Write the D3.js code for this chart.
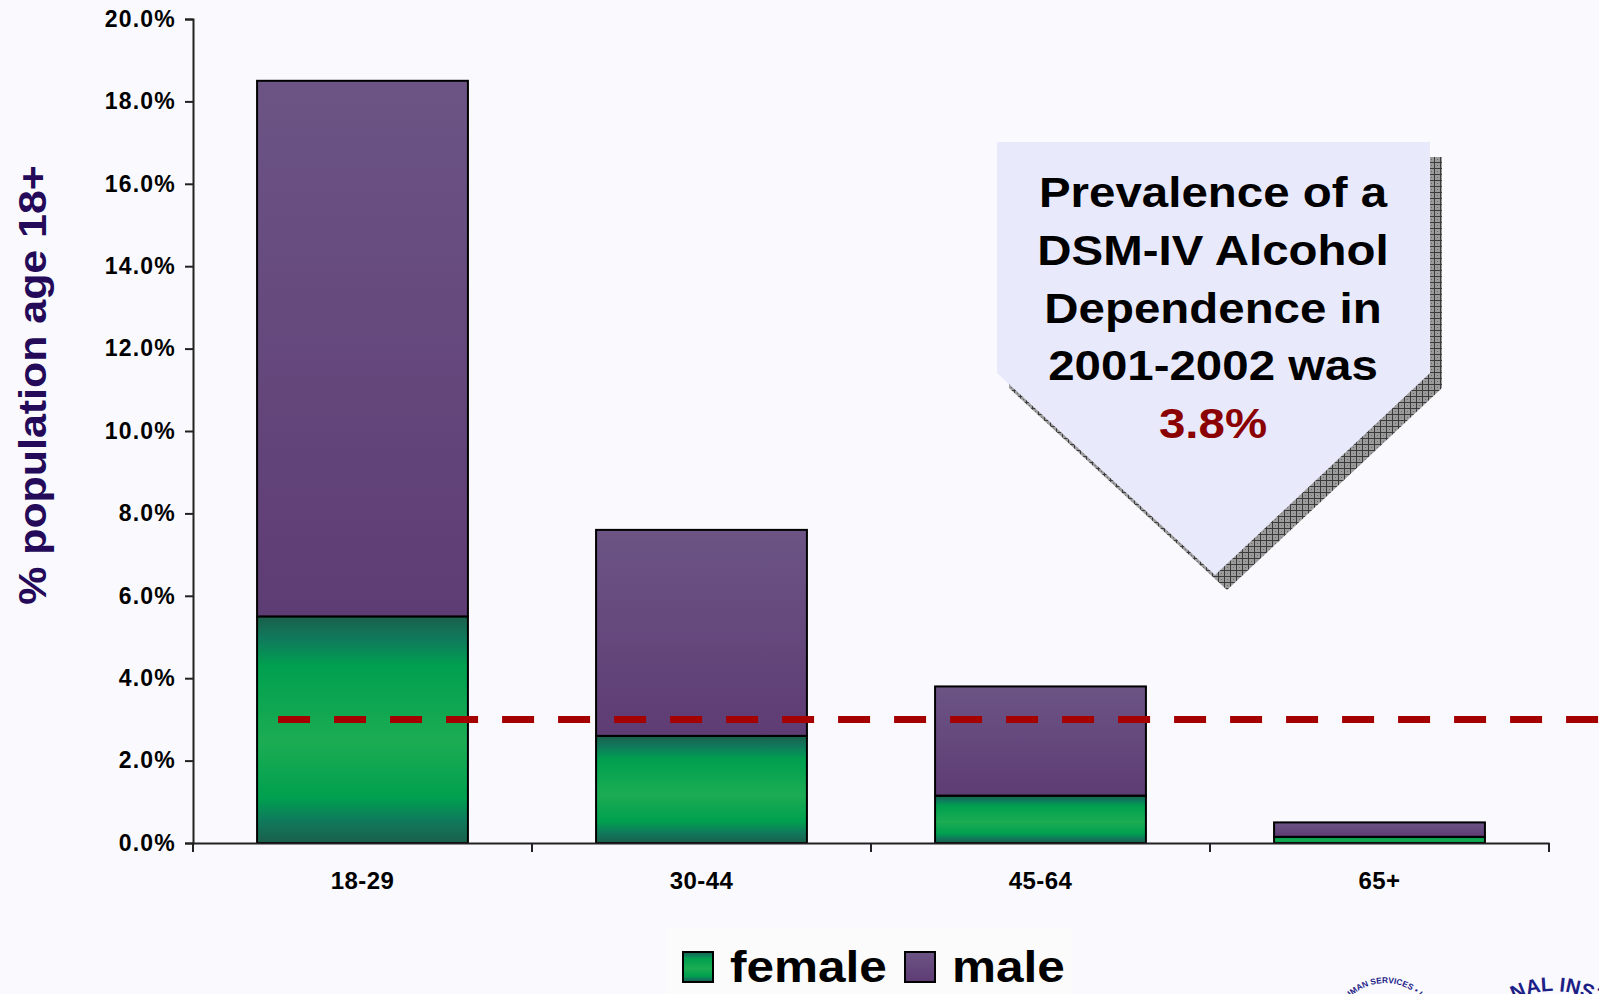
<!DOCTYPE html>
<html>
<head>
<meta charset="utf-8">
<script src="https://cdn.jsdelivr.net/npm/d3@7/dist/d3.min.js"></script>
<style>
  html, body { margin: 0; padding: 0; background: #f9f9fe; }
  svg { display: block; }
  text { font-family: "Liberation Sans", Arial, Helvetica, sans-serif; font-weight: bold; }
</style>
</head>
<body>
<svg id="chart" width="1599" height="994"></svg>
<script>
// ---- data ----
const categories = ["18-29", "30-44", "45-64", "65+"];
const femaleValues = [5.5, 2.6, 1.15, 0.15];
const maleValues = [13.0, 5.0, 2.65, 0.35];
const seriesNames = ["female", "male"];
const yTickValues = [0, 2, 4, 6, 8, 10, 12, 14, 16, 18, 20];
const overallRate = 3.0;
const calloutLines = ["Prevalence of a", "DSM-IV Alcohol", "Dependence in", "2001-2002 was"];
const calloutValue = "3.8%";
const yAxisTitle = "% population age 18+";

const svg = d3.select("#chart");
const W = 1599, H = 994;
const STRETCH = 1.13;

svg.append("rect").attr("width", W).attr("height", H).attr("fill", "#f9f9fe");

// ---- gradients / patterns ----
const defs = svg.append("defs");
const gF = defs.append("linearGradient").attr("id", "gradFemale")
  .attr("x1", 0).attr("y1", 0).attr("x2", 0).attr("y2", 1);
[[0, "#1b5f4b"], [0.1, "#0f7a5c"], [0.22, "#00a04f"], [0.55, "#1cac53"],
 [0.8, "#00a04f"], [0.9, "#0f7a5c"], [1, "#1b5f4b"]]
  .forEach(([o, c]) => gF.append("stop").attr("offset", o).attr("stop-color", c));
const gM = defs.append("linearGradient").attr("id", "gradMale")
  .attr("x1", 0).attr("y1", 0).attr("x2", 0).attr("y2", 1);
[[0, "#6c5485"], [1, "#5e3c74"]]
  .forEach(([o, c]) => gM.append("stop").attr("offset", o).attr("stop-color", c));

const hatch = defs.append("pattern").attr("id", "hatch")
  .attr("patternUnits", "userSpaceOnUse").attr("width", 6).attr("height", 6);
hatch.append("rect").attr("width", 6).attr("height", 6).attr("fill", "#9b9b9b");
hatch.append("path").attr("d", "M0,0.5H6M0.5,0V6").attr("stroke", "#3a3a3a").attr("stroke-width", 1);
hatch.append("rect").attr("x", 3).attr("y", 3).attr("width", 1).attr("height", 1).attr("fill", "#6a6a6a");

const fills = { female: "url(#gradFemale)", male: "url(#gradMale)" };

// ---- scales ----
const plot = { left: 193, right: 1549, top: 19, bottom: 843 };
const x = d3.scaleBand().domain(categories)
  .range([plot.left, plot.right]).paddingInner(0.378).paddingOuter(0.189);
const y = d3.scaleLinear().domain([0, 20]).range([plot.bottom, plot.top]);

// ---- stacked bars ----
const rows = categories.map((c, i) => ({ cat: c, female: femaleValues[i], male: maleValues[i] }));
const stacked = d3.stack().keys(seriesNames)(rows);

svg.append("g").selectAll("g").data(stacked).join("g")
  .attr("fill", d => fills[d.key])
  .selectAll("rect").data(d => d).join("rect")
  .attr("x", d => x(d.data.cat))
  .attr("width", x.bandwidth())
  .attr("y", d => y(d[1]))
  .attr("height", d => y(d[0]) - y(d[1]))
  .attr("stroke", "#000").attr("stroke-width", 2);

// ---- axes ----
const yAxis = svg.append("g").attr("transform", `translate(${plot.left},0)`)
  .call(d3.axisLeft(y).tickValues(yTickValues).tickSize(8).tickPadding(9)
    .tickFormat(d => d3.format(".1f")(d) + "%"));
yAxis.select(".domain").attr("stroke", "#222").attr("stroke-width", 2);
yAxis.selectAll(".tick line").attr("stroke", "#222").attr("stroke-width", 2);
yAxis.selectAll(".tick text")
  .attr("fill", "#000")
  .attr("font-size", 23)
  .attr("letter-spacing", 1.2);

const xAxis = svg.append("g").attr("transform", `translate(0,${plot.bottom})`)
  .call(d3.axisBottom(x).tickSize(0));
xAxis.select(".domain").attr("stroke", "#222").attr("stroke-width", 2);
xAxis.selectAll(".tick text")
  .attr("y", 46).attr("dy", 0).attr("fill", "#000")
  .attr("font-size", 24)
  .attr("letter-spacing", 0.4);

// category boundary ticks
const gap = x.step() - x.bandwidth();
const boundaries = categories.map(c => x(c) - gap / 2).concat([x.range()[1]]);
svg.append("g").selectAll("line").data(boundaries).join("line")
  .attr("x1", d => d).attr("x2", d => d)
  .attr("y1", plot.bottom).attr("y2", plot.bottom + 9)
  .attr("stroke", "#222").attr("stroke-width", 2);

// ---- y axis title ----
svg.append("text")
  .attr("transform", `translate(46,385) rotate(-90) scale(1.1,1)`)
  .attr("text-anchor", "middle")
  .attr("font-size", 39)
  .attr("fill", "#240a58")
  .text(yAxisTitle);

// ---- overall rate dashed line ----
svg.append("line")
  .attr("x1", x(categories[0]) + 21).attr("x2", W + 20)
  .attr("y1", y(overallRate)).attr("y2", y(overallRate))
  .attr("stroke", "#a50000").attr("stroke-width", 7)
  .attr("stroke-dasharray", "32 24");

// ---- callout ----
const callout = [[997, 142], [1430, 142], [1430, 373], [1215, 575], [997, 373]];
const shadowOff = [12, 15];
svg.append("polygon")
  .attr("points", callout.map(p => [p[0] + shadowOff[0], p[1] + shadowOff[1]].join(",")).join(" "))
  .attr("fill", "url(#hatch)");
svg.append("polygon")
  .attr("points", callout.map(p => p.join(",")).join(" "))
  .attr("fill", "#e9e9fc");

const calloutX = 1213;
const baselines = [207, 265, 323, 380, 438];
calloutLines.forEach((t, i) => {
  svg.append("text")
    .attr("transform", `translate(${calloutX},${baselines[i]}) scale(${STRETCH},1)`)
    .attr("text-anchor", "middle").attr("font-size", 42).attr("fill", "#000")
    .text(t);
});
svg.append("text")
  .attr("transform", `translate(${calloutX},${baselines[4]}) scale(${STRETCH},1)`)
  .attr("text-anchor", "middle").attr("font-size", 42).attr("fill", "#8b0000")
  .text(calloutValue);

// ---- legend ----
svg.append("rect").attr("x", 667).attr("y", 927).attr("width", 405).attr("height", 80)
  .attr("fill", "#fbfbfb");
const legendItems = [
  { key: "female", sx: 683, tx: 730 },
  { key: "male", sx: 905, tx: 952 }
];
const lg = svg.append("g").selectAll("g").data(legendItems).join("g");
lg.append("rect")
  .attr("x", d => d.sx).attr("y", 952).attr("width", 30).attr("height", 30)
  .attr("fill", d => fills[d.key]).attr("stroke", "#000").attr("stroke-width", 2);
lg.append("text")
  .attr("transform", d => `translate(${d.tx},982) scale(1.1,1)`)
  .attr("font-size", 45).attr("fill", "#000")
  .text(d => d.key);

// ---- seals in the lower right corner: letters set one by one around a circle ----
function lettersOnArc(str, cx, cy, r, startDeg, size, family) {
  const g = svg.append("g").attr("fill", "#1c2086").attr("font-size", size)
    .style("font-family", family).style("font-weight", "normal");
  let a = startDeg * Math.PI / 180;
  for (const ch of str) {
    const probe = g.append("text").text(ch === " " ? "\u00a0" : ch);
    const w = probe.node().getComputedTextLength();
    probe.remove();
    const mid = a + (w / 2) / r;
    a += w / r;
    if (ch === " ") continue;
    const px = cx + r * Math.sin(mid), py = cy - r * Math.cos(mid);
    if (px < -10 || px > W + 12 || py > H + 10) continue;
    g.append("text")
      .attr("text-anchor", "middle")
      .attr("transform", `translate(${px.toFixed(2)},${py.toFixed(2)}) rotate(${(mid * 180 / Math.PI).toFixed(2)})`)
      .text(ch);
  }
}
lettersOnArc("HUMAN SERVICES \u2022 USA", 1385, 1033, 50, -54.3, 8.3, "'Liberation Serif', serif");
lettersOnArc("NATIONAL INSTITUTE ON ALCOHOL", 1553, 1076, 85, -69.3, 20, "'Liberation Sans', Arial, sans-serif");
</script>
</body>
</html>
